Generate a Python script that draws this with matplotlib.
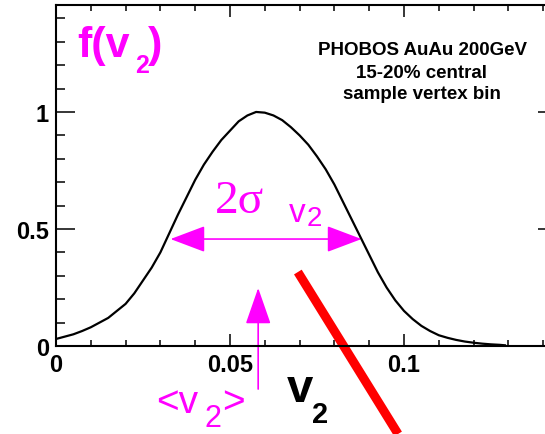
import matplotlib
matplotlib.use('Agg')
import matplotlib.pyplot as plt
from matplotlib.patches import FancyArrowPatch
from matplotlib.ticker import MultipleLocator, FuncFormatter

# f(v2)
v2 = [0.0000, 0.0025, 0.0050, 0.0075, 0.0100, 0.0125, 0.0150, 0.0175,
      0.0200, 0.0225, 0.0250, 0.0275, 0.0300, 0.0325, 0.0350, 0.0375,
      0.0400, 0.0425, 0.0450, 0.0475, 0.0500, 0.0525, 0.0550, 0.0575,
      0.0600, 0.0625, 0.0650, 0.0675, 0.0700, 0.0725, 0.0750, 0.0775,
      0.0800, 0.0825, 0.0850, 0.0875, 0.0900, 0.0925, 0.0950, 0.0975,
      0.1000, 0.1025, 0.1050, 0.1075, 0.1100, 0.1125, 0.1150, 0.1175,
      0.1200, 0.1225, 0.1250, 0.1275, 0.1290]
fv2 = [0.030, 0.040, 0.050, 0.064, 0.080, 0.100, 0.120, 0.150,
       0.180, 0.225, 0.280, 0.335, 0.400, 0.480, 0.560, 0.635,
       0.710, 0.775, 0.830, 0.880, 0.920, 0.960, 0.985, 1.000,
       0.997, 0.985, 0.965, 0.935, 0.900, 0.860, 0.810, 0.755,
       0.690, 0.615, 0.540, 0.465, 0.390, 0.315, 0.250, 0.195,
       0.150, 0.115, 0.086, 0.064, 0.046, 0.035, 0.026, 0.019,
       0.014, 0.010, 0.007, 0.005, 0.003]

mean_v2 = 0.0581
width_lo, width_hi, width_y = 0.0329, 0.0878, 0.457
red_x = [0.0695, 0.0983]
red_y = [0.316, -0.376]

W, H = 545, 435
MAG = '#ff00ff'

plt.rcParams['font.family'] = ['Liberation Sans', 'DejaVu Sans']
plt.rcParams['font.weight'] = 'bold'

fig = plt.figure(figsize=(W / 100, H / 100), dpi=100)
ax = fig.add_axes([56 / W, (H - 347) / H, (557 - 56) / W, (347 - 6) / H])

ax.plot(v2, fv2, color='black', lw=1.6)
ax.set_xlim(0, 0.14397)
ax.set_ylim(0, 1.457)

ax.xaxis.set_major_locator(MultipleLocator(0.05))
ax.xaxis.set_minor_locator(MultipleLocator(0.01))
ax.yaxis.set_major_locator(MultipleLocator(0.5))
ax.yaxis.set_minor_locator(MultipleLocator(0.1))
fmt = FuncFormatter(lambda v, p: '%g' % round(v, 4))
ax.xaxis.set_major_formatter(fmt)
ax.yaxis.set_major_formatter(fmt)

ax.tick_params(axis='both', which='both', direction='in', top=True, right=True,
               width=1.1, labelsize=17)
ax.tick_params(axis='x', which='major', length=8.6, pad=5)
ax.tick_params(axis='x', which='minor', length=4.3)
ax.tick_params(axis='y', which='major', length=13.7, pad=5)
ax.tick_params(axis='y', which='minor', length=6.5)
for s in ax.spines.values():
    s.set_linewidth(1.5)

# arrows
harrow = FancyArrowPatch((width_lo, width_y), (width_hi, width_y),
                         arrowstyle='<|-|>,head_length=22,head_width=8.3',
                         mutation_scale=1, shrinkA=0, shrinkB=0,
                         color=MAG, lw=1.2)
ax.add_patch(harrow)
varrow = FancyArrowPatch((mean_v2, -0.184), (mean_v2, 0.248),
                         arrowstyle='-|>,head_length=23,head_width=8',
                         mutation_scale=1, shrinkA=0, shrinkB=0,
                         color=MAG, lw=1.2, clip_on=False)
ax.add_patch(varrow)

ax.plot(red_x, red_y, color='#ff0000', lw=6.5, solid_capstyle='butt', clip_on=False)


def put(s, x, y, size, color='black', weight='bold', family=None, ha='left'):
    kw = {}
    if family:
        kw['family'] = family
    fig.text(x / W, 1 - y / H, s, fontsize=size, color=color, fontweight=weight,
             ha=ha, va='baseline', **kw)


# f(v2)
put('f(v', 77, 57, 31, MAG)
put('2', 135, 73, 18, MAG)
put(')', 148, 57, 31, MAG)

# info box
put('PHOBOS AuAu 200GeV', 422, 55, 13.5, ha='center')
put('15-20% central', 422, 78, 13.5, ha='center')
put('sample vertex bin', 422, 99, 13.5, ha='center')

# 2 sigma v2
put('2\u03c3', 215, 213, 34, MAG, weight='normal', family='Liberation Serif')
put('v', 289, 222, 24, MAG, weight='normal')
put('2', 307, 226, 20, MAG, weight='normal')

# <v2>
put('<v', 156, 413, 28, MAG, weight='normal')
put('2', 204, 427, 22, MAG, weight='normal')
put('>', 222, 413, 28, MAG, weight='normal')

# axis title
put('v', 287, 402, 34)
put('2', 312, 423, 21)

fig.savefig('out.png', dpi=100)
